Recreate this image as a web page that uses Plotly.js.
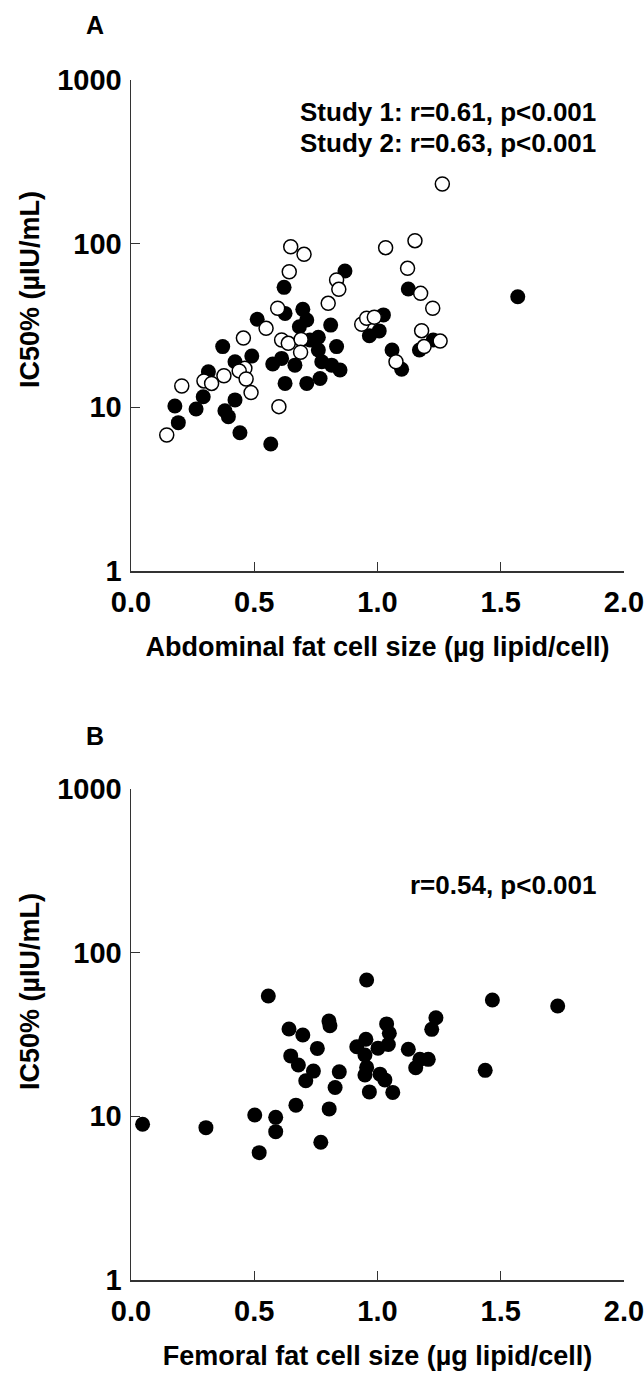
<!DOCTYPE html>
<html>
<head>
<meta charset="utf-8">
<script src="https://cdn.plot.ly/plotly-3.0.1.min.js"></script>
<style>html,body{margin:0;padding:0;background:#fff;}#chart{width:644px;height:1376px;}</style>
</head>
<body>
<div id="chart"></div>
<script>
// Panel A – Study 1 (filled circles)
const aStudy1X = [0.868,0.621,0.697,0.625,0.713,0.683,0.512,0.810,0.760,0.726,0.834,0.760,0.372,0.490,0.422,0.575,0.611,0.665,0.774,0.814,0.848,0.314,0.625,0.713,0.767,0.293,0.422,0.264,0.178,0.381,0.395,0.192,0.442,0.567,1.125,1.569,1.024,1.007,0.967,1.059,1.098,1.170,1.226];
const aStudy1Y = [68.1,54.1,39.7,37.5,34.2,31.1,34.5,31.8,26.8,25.8,23.5,22.4,23.5,20.6,19.0,18.4,19.9,18.1,19.0,18.1,16.9,16.5,14.0,14.0,15.0,11.6,11.1,9.77,10.2,9.54,8.77,8.06,7.00,5.97,52.8,47.4,36.7,29.3,27.4,22.4,17.1,22.4,25.8];
// Panel A – Study 2 (open circles)
const aStudy2X = [1.263,1.152,1.033,1.122,0.648,0.702,0.642,0.834,0.843,0.800,0.595,0.548,0.456,0.611,0.638,0.690,0.688,0.462,0.439,0.377,0.467,0.296,0.327,0.206,0.487,0.600,0.145,0.936,0.956,0.987,1.175,1.224,1.179,1.189,1.254,1.075];
const aStudy2Y = [231.5,104.3,94.5,70.7,95.8,86.1,67.4,60.0,52.6,43.2,40.3,30.4,26.5,25.8,24.6,26.0,21.7,17.3,16.7,15.6,14.9,14.5,14.0,13.5,12.3,10.1,6.78,32.2,35.0,35.5,49.7,40.3,29.4,23.5,25.4,19.0];
// Panel B – femoral
const bX = [0.956,0.557,0.641,0.697,0.803,0.807,0.756,0.648,0.679,0.740,0.709,0.845,0.828,0.669,0.804,0.502,0.587,0.587,0.770,0.520,0.304,0.047,0.953,0.916,1.002,0.949,0.956,0.949,1.010,0.967,1.466,1.731,1.237,1.220,1.037,1.048,1.044,1.125,1.172,1.206,1.155,1.437,1.030,1.062];
const bY = [68.1,54.4,34.2,31.4,38.2,35.8,26.0,23.4,20.6,18.9,16.5,18.7,15.0,11.7,11.1,10.2,9.86,8.06,6.94,6.00,8.53,8.94,29.6,26.6,26.1,23.7,19.9,17.9,18.1,14.1,51.4,47.2,40.0,34.0,36.7,32.2,27.5,25.7,22.3,22.3,19.8,19.1,16.7,14.0];

const xTickVals = [0, 0.5, 1.0, 1.5, 2.0];
const xTickText = ['0.0', '0.5', '1.0', '1.5', '2.0'];
const yTickVals = [1, 10, 100, 1000];
const yTickText = ['1', '10', '100', '1000'];

const FONT = 'Liberation Sans, Arial, Helvetica, sans-serif';
const TICKF = {family: FONT, size: 29, color: '#000', weight: 'bold'};
const TITLEF = {family: FONT, size: 27, color: '#000', weight: 'bold'};
const filled = {size: 15, color: '#000', line: {width: 0}};
const open = {size: 14, color: '#fff', line: {width: 1.5, color: '#000'}};

const traces = [
  {x: aStudy1X, y: aStudy1Y, mode: 'markers', type: 'scatter', marker: filled, xaxis: 'x', yaxis: 'y', showlegend: false},
  {x: aStudy2X, y: aStudy2Y, mode: 'markers', type: 'scatter', marker: open, xaxis: 'x', yaxis: 'y', showlegend: false},
  {x: bX, y: bY, mode: 'markers', type: 'scatter', marker: filled, xaxis: 'x2', yaxis: 'y2', showlegend: false}
];

function xAxis(domain, title, anchor) {
  return {
    domain: domain, anchor: anchor, range: [0, 2], tickvals: xTickVals, ticktext: xTickText,
    ticks: 'inside', ticklen: 9, tickwidth: 1.2, tickcolor: '#333',
    showline: true, linecolor: '#333', linewidth: 1.5, showgrid: false, zeroline: false,
    tickfont: TICKF, ticklabelstandoff: 5, ticklabeloverflow: 'allow',
    title: {text: title, font: TITLEF, standoff: 20},
    automargin: false, fixedrange: true
  };
}
function yAxis(domain, anchor) {
  return {
    domain: domain, anchor: anchor, type: 'log', range: [0, 3], tickvals: yTickVals, ticktext: yTickText,
    ticks: 'inside', ticklen: 9, tickwidth: 1.2, tickcolor: '#333',
    showline: true, linecolor: '#333', linewidth: 1.5, showgrid: false, zeroline: false,
    tickfont: TICKF, ticklabelstandoff: 2, ticklabeloverflow: 'allow',
    automargin: false, fixedrange: true
  };
}

const annFont = {family: FONT, size: 26, color: '#000', weight: 'bold'};
const layout = {
  width: 644, height: 1376,
  margin: {l: 0, r: 0, t: 0, b: 0},
  paper_bgcolor: '#fff', plot_bgcolor: '#fff',
  showlegend: false,
  xaxis: xAxis([131/644, 624/644], 'Abdominal fat cell size (µg lipid/cell)', 'y'),
  yaxis: yAxis([1 - 571/1376, 1 - 80/1376], 'x'),
  xaxis2: xAxis([131/644, 624/644], 'Femoral fat cell size (µg lipid/cell)', 'y2'),
  yaxis2: yAxis([1 - 1280/1376, 1 - 789/1376], 'x2'),
  annotations: [
    {text: 'A', xref: 'paper', yref: 'paper', x: 95/644, y: 1 - 25/1376, xanchor: 'center', yanchor: 'middle', showarrow: false, font: {family: FONT, size: 25, color: '#000', weight: 'bold'}},
    {text: 'B', xref: 'paper', yref: 'paper', x: 95/644, y: 1 - 736/1376, xanchor: 'center', yanchor: 'middle', showarrow: false, font: {family: FONT, size: 25, color: '#000', weight: 'bold'}},
    {text: 'IC50% (µIU/mL)', textangle: -90, xref: 'paper', yref: 'paper', x: 30/644, y: 1 - 290/1376, xanchor: 'center', yanchor: 'middle', showarrow: false, font: TITLEF},
    {text: 'IC50% (µIU/mL)', textangle: -90, xref: 'paper', yref: 'paper', x: 30/644, y: 1 - 992/1376, xanchor: 'center', yanchor: 'middle', showarrow: false, font: TITLEF},
    {text: 'Study 1: r=0.61, p<0.001', xref: 'paper', yref: 'paper', x: 598/644, y: 1 - 112/1376, xanchor: 'right', yanchor: 'middle', showarrow: false, font: annFont},
    {text: 'Study 2: r=0.63, p<0.001', xref: 'paper', yref: 'paper', x: 598/644, y: 1 - 143/1376, xanchor: 'right', yanchor: 'middle', showarrow: false, font: annFont},
    {text: 'r=0.54, p<0.001', xref: 'paper', yref: 'paper', x: 598/644, y: 1 - 885/1376, xanchor: 'right', yanchor: 'middle', showarrow: false, font: annFont}
  ]
};

Plotly.newPlot('chart', traces, layout, {staticPlot: true, displayModeBar: false});
</script>
</body>
</html>
